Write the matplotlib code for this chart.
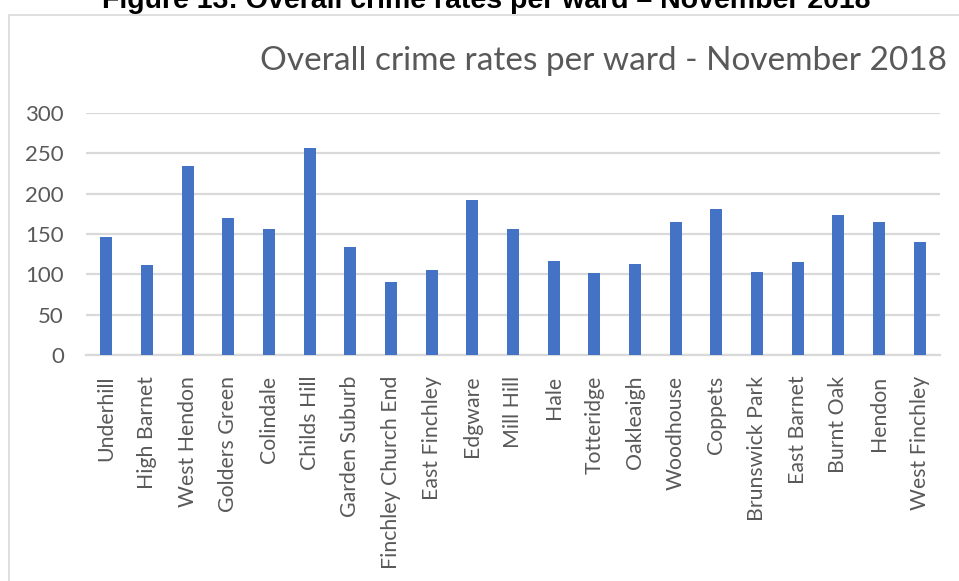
import numpy as np
import matplotlib
matplotlib.use('Agg')
import matplotlib.pyplot as plt
import matplotlib.patches as mpatches

wards = ['Underhill', 'High Barnet', 'West Hendon', 'Golders Green', 'Colindale',
         'Childs Hill', 'Garden Suburb', 'Finchley Church End', 'East Finchley',
         'Edgware', 'Mill Hill', 'Hale', 'Totteridge', 'Oakleaigh', 'Woodhouse',
         'Coppets', 'Brunswick Park', 'East Barnet', 'Burnt Oak', 'Hendon',
         'West Finchley']
crimes = [146, 112, 234, 170, 156, 256, 134, 90, 105, 192, 156, 117, 102, 113,
          165, 181, 103, 115, 173, 165, 140]
yticks = [0, 50, 100, 150, 200, 250, 300]

W, H = 959, 581
fig = plt.figure(figsize=(W/100, H/100), dpi=100)
fig.patch.set_facecolor('white')

# chart frame (runs off the right and bottom of the crop)
fig.patches.append(mpatches.Rectangle((9/W, -0.05), 1.1, 1 - 15/H + 0.05,
                                      transform=fig.transFigure, fill=False,
                                      edgecolor='#d9d9d9', lw=1.2))

ax = fig.add_axes([86/W, 1 - 355/H, (940-86)/W, (355-113)/H])
x = np.arange(len(wards))
ax.bar(x, crimes, width=0.3, color='#4472C4', zorder=3)

ax.set_xlim(-0.5, len(wards) - 0.5)
ax.set_ylim(0, 300)
ax.set_yticks(yticks)
ax.set_yticklabels([str(v) for v in yticks], fontsize=16, color='#595959',
                   family='Lato')
ax.set_xticks(x)
ax.set_xticklabels(wards, rotation=90, fontsize=15.3, color='#595959',
                   family='Lato', va='top', ha='center')
ax.tick_params(axis='both', length=0)
ax.tick_params(axis='y', pad=16)
ax.tick_params(axis='x', pad=15)
ax.grid(axis='y', color='#d9d9d9', lw=1.6, zorder=0)
for s in ['top', 'right', 'left']:
    ax.spines[s].set_visible(False)
ax.spines['bottom'].set_color('#d9d9d9')
ax.spines['bottom'].set_linewidth(1.6)

fig.text(604/W, 1 - 70/H, 'Overall crime rates per ward - November 2018',
         ha='center', va='baseline', fontsize=24, color='#595959',
         family='Lato')
fig.text(486/W, 1 - 8/H, 'Figure 13: Overall crime rates per ward \u2013 November 2018',
         ha='center', va='baseline', fontsize=20.5, color='black',
         family='Liberation Sans', weight='bold')

fig.savefig('out.png', dpi=100, facecolor='white')
